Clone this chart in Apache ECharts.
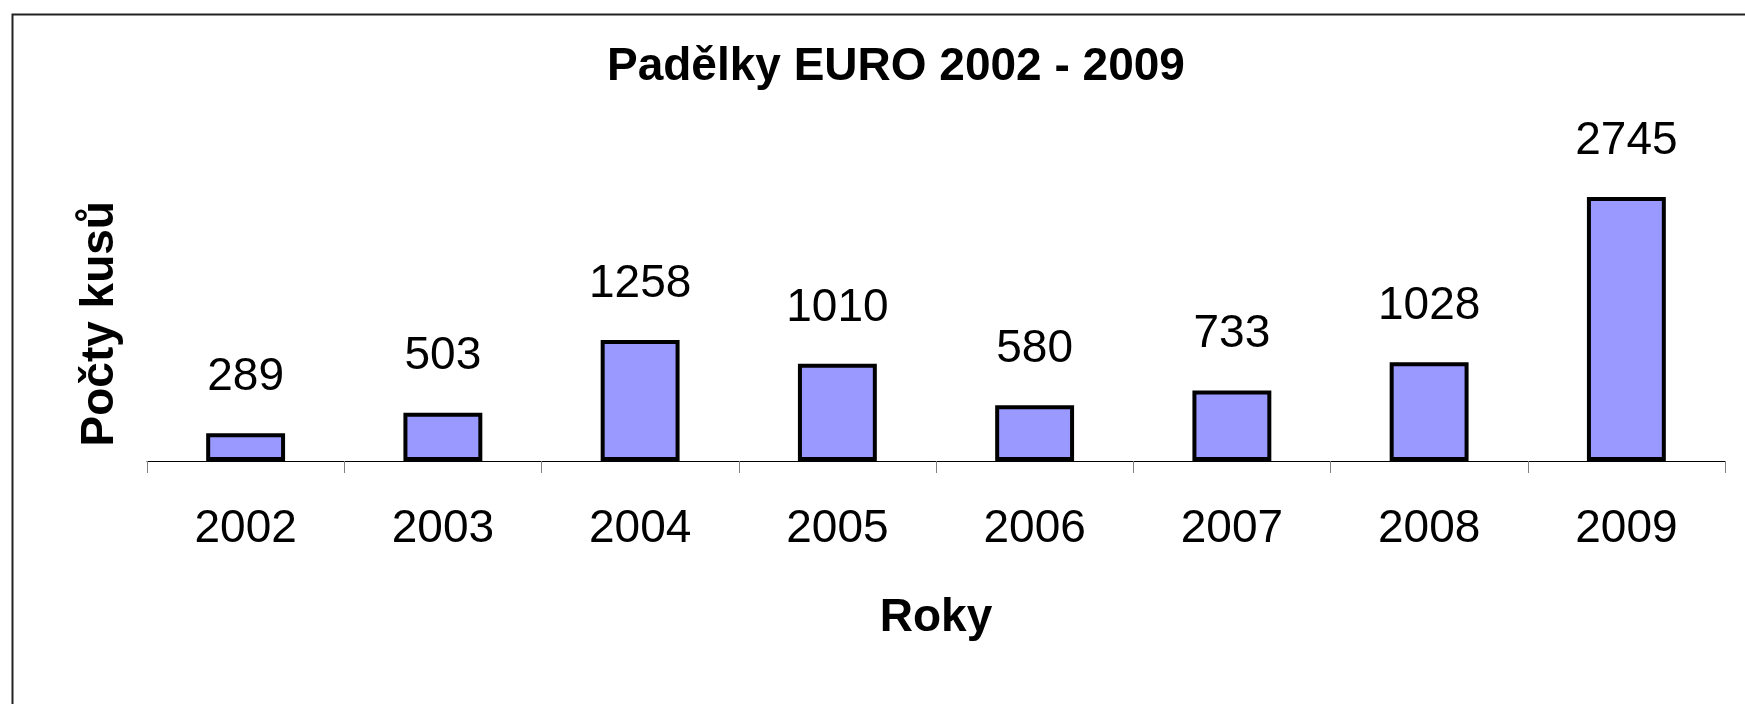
<!DOCTYPE html>
<html>
<head>
<meta charset="utf-8">
<script src="https://cdn.jsdelivr.net/npm/echarts@6/dist/echarts.min.js"></script>
<style>
html,body{margin:0;padding:0;background:#fff;}
#chart{width:1745px;height:704px;}
</style>
</head>
<body>
<div id="chart"></div>
<script>
const titleText = 'Padělky EURO 2002 - 2009';
const xAxisTitle = 'Roky';
const yAxisTitle = 'Počty kusů';
const years = ['2002','2003','2004','2005','2006','2007','2008','2009'];
const counts = [289, 503, 1258, 1010, 580, 733, 1028, 2745];

const FONT = '"Liberation Sans", Arial, sans-serif';
const chart = echarts.init(document.getElementById('chart'), null, {renderer:'canvas'});
chart.setOption({
  animation: false,
  backgroundColor: '#fff',
  title: {
    text: titleText,
    left: 607,
    top: 44,
    padding: 0,
    textStyle: {fontFamily: FONT, fontSize: 46, fontWeight: 'bold', color: '#000'}
  },
  graphic: [{
    type: 'rect',
    left: 10, top: 12,
    shape: {width: 1800, height: 800},
    style: {fill: 'none', stroke: '#222', lineWidth: 2},
    silent: true
  }],
  grid: {left: 147, right: 20, top: 172.5, bottom: 243, containLabel: false},
  xAxis: {
    type: 'category',
    data: years,
    name: xAxisTitle,
    nameLocation: 'middle',
    nameGap: 134,
    nameTextStyle: {fontFamily: FONT, fontSize: 46, fontWeight: 'bold', color: '#000'},
    axisLine: {show: true, lineStyle: {color: '#000', width: 1}},
    axisTick: {show: true, length: 12, lineStyle: {color: '#808080', width: 1}},
    axisLabel: {margin: 45, fontFamily: FONT, fontSize: 46, color: '#000'},
    splitLine: {show: false}
  },
  yAxis: {
    type: 'value',
    min: 0, max: 3000,
    name: yAxisTitle,
    nameLocation: 'middle',
    nameGap: 24,
    nameTextStyle: {fontFamily: FONT, fontSize: 46, fontWeight: 'bold', color: '#000', padding: [0, 14, 0, 0]},
    axisLine: {show: false},
    axisTick: {show: false},
    axisLabel: {show: false},
    splitLine: {show: false}
  },
  series: [{
    type: 'bar',
    data: counts,
    barCategoryGap: '60%',
    itemStyle: {color: '#9999FF', borderColor: '#000', borderWidth: 4},
    label: {
      show: true, position: 'top', distance: 33,
      fontFamily: FONT, fontSize: 46, color: '#000'
    }
  }]
});
</script>
</body>
</html>
